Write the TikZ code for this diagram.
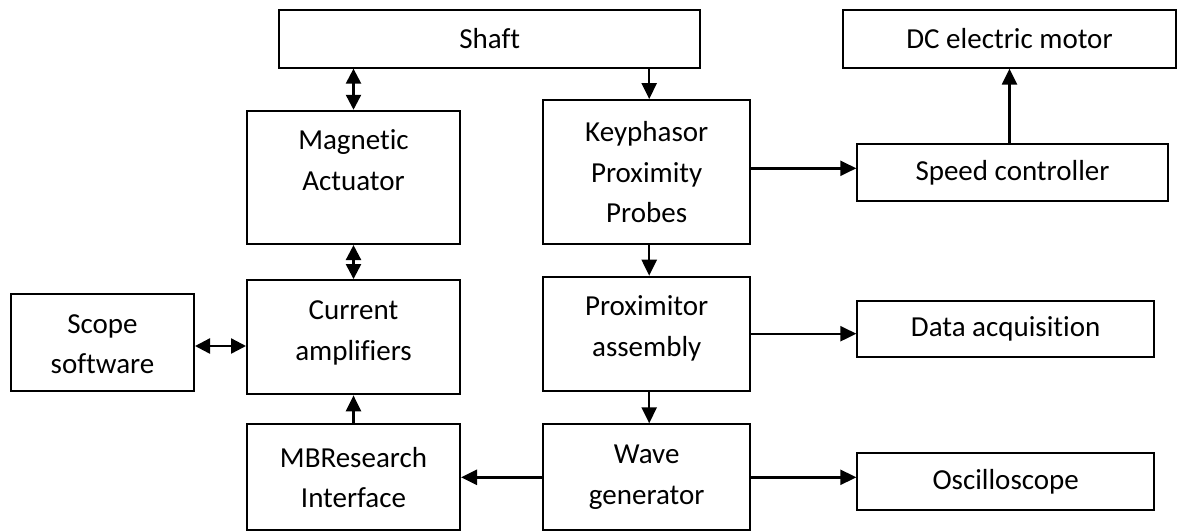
\documentclass[tikz,border=0pt]{standalone}
\usepackage{fontspec}
\setmainfont{Carlito}[Ligatures=NoCommon]
\usetikzlibrary{arrows.meta}
\begin{document}
\begin{tikzpicture}[x=1pt,y=-1pt,
  box/.style={draw, line width=2pt, inner sep=0pt, align=center, font=\fontsize{29}{40.5}\selectfont},
  txt/.style={inner sep=0pt, align=center, font=\fontsize{29}{40.5}\selectfont},
  arr/.style={line width=2.4pt, -{Triangle[length=16pt,width=15pt]}},
  dbl/.style={line width=2.4pt, {Triangle[length=15pt,width=15pt]}-{Triangle[length=15pt,width=15pt]}}
]
\fill[white] (0,0) rectangle (1177,531);
\useasboundingbox (0,0) rectangle (1177,531);

% boxes
\node[box, minimum width=420.7pt, minimum height=57.7pt] (shaft) at (489.7,38.8) {Shaft};
\node[box, minimum width=332.4pt, minimum height=57.7pt] (dc) at (1009.5,38.8) {DC electric motor};
\node[box, minimum width=213pt, minimum height=133.3pt] (mag) at (353.5,177.4) {};
\node[txt] (magt) at (353.5,160) {Magnetic\\Actuator};
\node[box, minimum width=206.7pt, minimum height=144.3pt] (key) at (646.7,172.2) {Keyphasor\\Proximity\\Probes};
\node[box, minimum width=310.4pt, minimum height=57pt] (speed) at (1012.5,172.8) {Speed controller};
\node[box, minimum width=183pt, minimum height=96.4pt] (scope) at (102.5,342.5) {};
\node[txt] (scopet) at (102.5,344) {Scope\\software};
\node[box, minimum width=213pt, minimum height=114.3pt] (cur) at (353.5,337.2) {};
\node[txt] (curt) at (353.5,333) {Current\\amplifiers};
\node[box, minimum width=206.7pt, minimum height=114pt] (prox) at (646.7,333.7) {};
\node[txt] (proxt) at (646.7,328.5) {Proximitor\\assembly};
\node[box, minimum width=296.7pt, minimum height=56.6pt] (data) at (1005.7,329) {Data acquisition};
\node[box, minimum width=213pt, minimum height=106pt] (mb) at (353.5,477.3) {MBResearch\\Interface};
\node[box, minimum width=206.7pt, minimum height=106pt] (wave) at (646.7,477.3) {Wave\\generator};
\node[box, minimum width=296.7pt, minimum height=57.3pt] (osc) at (1005.7,481.4) {Oscilloscope};

% connectors
\draw[dbl] (mag.north) -- (mag.north |- shaft.south);
\draw[arr] ([xshift=2.5pt]key.north |- shaft.south) -- ([xshift=2.5pt]key.north);
\draw[dbl] (mag.south) -- (cur.north);
\draw[dbl] ([yshift=-3.5pt]scope.east) -- ([yshift=-3.5pt]scope.east -| cur.west);
\draw[arr] (mb.north) -- (cur.south);
\draw[arr] ([xshift=2.5pt]key.south) -- ([xshift=2.5pt]prox.north);
\draw[arr] ([xshift=2.5pt]prox.south) -- ([xshift=2.5pt]wave.north);
\draw[arr] (wave.west) -- (mb.east);
\draw[arr] ([yshift=4.5pt]speed.west -| key.east) -- ([yshift=4.5pt]speed.west);
\draw[arr] (dc.south |- speed.north) -- (dc.south);
\draw[arr] (prox.east) -- (prox.east -| data.west);
\draw[arr] (wave.east) -- (wave.east -| osc.west);
\end{tikzpicture}
\end{document}
